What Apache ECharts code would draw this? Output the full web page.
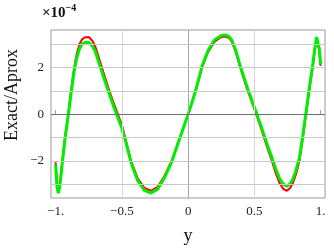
<!DOCTYPE html>
<html>
<head>
<meta charset="utf-8">
<script src="https://cdn.jsdelivr.net/npm/echarts@6/dist/echarts.min.js"></script>
<style>
html,body{margin:0;padding:0;background:#fff;}
#c{width:334px;height:250px;}
</style>
</head>
<body>
<div id="c"></div>
<script>
// values in units of 1e-4
const xs = [-1.0,-0.99,-0.98,-0.97,-0.96,-0.95,-0.93,-0.905,-0.88,-0.86,-0.84,-0.82,-0.80,-0.78,-0.75,-0.72,-0.70,-0.67,-0.64,-0.60,-0.56,-0.53,-0.50,-0.475,-0.43,-0.38,-0.33,-0.28,-0.23,-0.18,-0.125,-0.062,0,0.03,0.06,0.105,0.15,0.20,0.25,0.28,0.31,0.33,0.36,0.39,0.45,0.514,0.55,0.59,0.632,0.66,0.69,0.72,0.745,0.77,0.79,0.815,0.84,0.865,0.89,0.915,0.94,0.955,0.97,0.98,0.99,1.0];
const exactRed = [-2.05,-3.0,-3.28,-3.05,-2.55,-2.0,-1.0,0,1.15,2.0,2.6,3.0,3.2,3.28,3.3,3.12,2.88,2.35,1.8,1.1,0.45,0,-0.45,-1.0,-2.0,-2.75,-3.15,-3.27,-3.1,-2.65,-2.0,-1.0,0,0.5,1.05,2.0,2.65,3.1,3.3,3.32,3.25,3.1,2.65,2.05,1.0,0,-0.6,-1.3,-2.0,-2.5,-2.95,-3.2,-3.27,-3.15,-2.95,-2.55,-2.0,-1.05,0,1.05,2.0,2.7,3.22,3.25,2.7,2.07];
const aproxGreen = [-2.15,-3.1,-3.37,-3.15,-2.65,-2.1,-1.1,-0.05,1.05,1.85,2.42,2.8,3.0,3.07,3.07,2.9,2.67,2.15,1.62,0.95,0.3,-0.15,-0.6,-1.1,-2.08,-2.85,-3.25,-3.37,-3.2,-2.73,-2.05,-1.02,0,0.52,1.08,2.05,2.72,3.18,3.37,3.39,3.32,3.17,2.72,2.12,1.08,0.08,-0.5,-1.18,-1.85,-2.32,-2.75,-3.0,-3.08,-2.97,-2.78,-2.38,-1.85,-0.92,0.1,1.15,2.1,2.78,3.3,3.3,2.8,2.12];
const xTickValues = [-1,-0.5,0,0.5,1];
const xTickText = ['\u22121.','\u22120.5','0','0.5','1.'];
const yTickValues = [-2,0,2];
const yTickText = ['\u22122','0','2'];
const xGridValues = [-0.5,0,0.5];
const yGridValues = [-3,-2,-1,0,1,2,3];

const font = '"Liberation Serif","DejaVu Serif",serif';
const chart = echarts.init(document.getElementById('c'), null, {renderer:'canvas'});

function pairs(xa, ya){ return xa.map((x,i)=>[x, ya[i]]); }

const gridLines = [];
xGridValues.forEach(v => gridLines.push({xAxis:v, lineStyle:{color: v===0 ? '#a8a8a8' : '#d8d8d8', width:1, type:'solid'}}));
yGridValues.forEach(v => gridLines.push({yAxis:v, lineStyle:{color: v===0 ? '#707070' : '#c8c8c8', width:1, type:'solid'}}));

chart.setOption({
  animation:false,
  grid:{left:51, right:9, top:30, bottom:52, show:true, borderColor:'#999', borderWidth:1, backgroundColor:'transparent'},
  xAxis:{
    type:'value', min:-1.035, max:1.033,
    axisLine:{show:false},
    splitLine:{show:false},
    axisTick:{show:true, inside:true, length:4, lineStyle:{color:'#999'}, customValues:xTickValues},
    axisLabel:{customValues:xTickValues, margin:7, color:'#222', fontFamily:font, fontSize:13,
      formatter:function(v){ const i = xTickValues.indexOf(v); return i>=0 ? xTickText[i] : ''; }}
  },
  yAxis:{
    type:'value', min:-3.58, max:3.6,
    axisLine:{show:false},
    splitLine:{show:false},
    axisTick:{show:true, inside:true, length:4, lineStyle:{color:'#999'}, customValues:yTickValues},
    axisLabel:{customValues:yTickValues, margin:7, color:'#222', fontFamily:font, fontSize:13,
      formatter:function(v){ const i = yTickValues.indexOf(v); return i>=0 ? yTickText[i] : ''; }}
  },
  graphic:[
    {type:'text', x:12, y:95, rotation:Math.PI/2, style:{text:'Exact/Aprox', font:'18px '+font, fill:'#111', textAlign:'center', textVerticalAlign:'middle'}},
    {type:'text', x:188, y:236, style:{text:'y', font:'18px '+font, fill:'#111', textAlign:'center', textVerticalAlign:'middle'}},
    {type:'text', x:42, y:3, style:{text:'{a|\u00d710}{b|\u22124}', textVerticalAlign:'top',
      rich:{a:{fontFamily:font, fontWeight:'bold', fontSize:15, fill:'#111', verticalAlign:'bottom', lineHeight:18},
            b:{fontFamily:font, fontWeight:'bold', fontSize:10, fill:'#111', verticalAlign:'top', padding:[0,0,9,0], lineHeight:18}}}}
  ],
  series:[
    {type:'line', data:[], silent:true, z:1,
     markLine:{silent:true, symbol:'none', label:{show:false}, animation:false, data:gridLines}},
    {name:'Exact', type:'line', data:pairs(xs, exactRed), showSymbol:false, symbol:'none', z:3,
     lineStyle:{color:'#ff0000', width:2}},
    {name:'Aprox', type:'line', data:pairs(xs, aproxGreen), showSymbol:false, symbol:'none', z:4,
     lineStyle:{color:'#00ee00', width:3}}
  ]
});
</script>
</body>
</html>
